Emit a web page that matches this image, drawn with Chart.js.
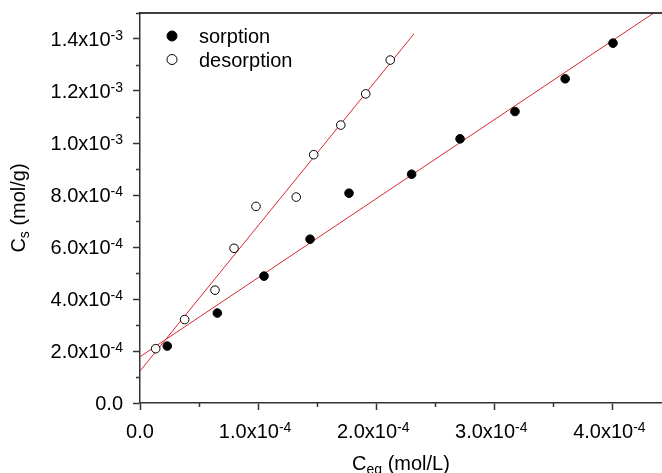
<!DOCTYPE html>
<html>
<head>
<meta charset="utf-8">
<script src="https://cdn.jsdelivr.net/npm/chart.js@4.4.1/dist/chart.umd.min.js"></script>
<style>
  body { margin: 0; background: #fff; }
  #wrap { width: 662px; height: 473px; }
</style>
</head>
<body>
<div id="wrap"><canvas id="chart" width="662" height="473"></canvas></div>
<script>
// values
var sorptionCeq = [0.231e-4, 0.655e-4, 1.05e-4, 1.44e-4, 1.77e-4, 2.30e-4, 2.71e-4, 3.175e-4, 3.60e-4, 4.005e-4];
var sorptionCs = [2.19e-4, 3.46e-4, 4.88e-4, 6.30e-4, 8.07e-4, 8.80e-4, 1.016e-3, 1.121e-3, 1.247e-3, 1.384e-3];
var desorptionCeq = [0.133e-4, 0.378e-4, 0.635e-4, 0.796e-4, 0.982e-4, 1.323e-4, 1.471e-4, 1.70e-4, 1.911e-4, 2.119e-4];
var desorptionCs = [2.09e-4, 3.21e-4, 4.34e-4, 5.95e-4, 7.56e-4, 7.92e-4, 9.55e-4, 1.069e-3, 1.189e-3, 1.319e-3];

// fitted lines (end points)
var sorptionFitCeq = [0, 4.35e-4];
var sorptionFitCs = [1.78e-4, 1.5e-3];
var desorptionFitCeq = [0, 2.32e-4];
var desorptionFitCs = [1.23e-4, 1.42e-3];

var xTickValues = [0, 1e-4, 2e-4, 3e-4, 4e-4];
var xTickLabels = ['0.0', '1.0x10^-4', '2.0x10^-4', '3.0x10^-4', '4.0x10^-4'];
var yTickValues = [0, 2e-4, 4e-4, 6e-4, 8e-4, 1e-3, 1.2e-3, 1.4e-3];
var yTickLabels = ['0.0', '2.0x10^-4', '4.0x10^-4', '6.0x10^-4', '8.0x10^-4', '1.0x10^-3', '1.2x10^-3', '1.4x10^-3'];

var FONT = "'Liberation Sans', Arial, sans-serif";
var AXIS = '#333';
var RED = 'rgb(220,40,50)';

function toPoints(xs, ys) {
    return xs.map(function(x, i) { return {x: x, y: ys[i]}; });
}

// text with ^superscript or _subscript part
function drawRich(ctx, text, x, y, align, big, small, shift) {
    var parts = text.split(/[\^_]/);
    var sign = text.indexOf('^') >= 0 ? -1 : 1;
    ctx.font = big + 'px ' + FONT;
    var w1 = ctx.measureText(parts[0]).width;
    var w2 = 0;
    if (parts[1]) {
        ctx.font = small + 'px ' + FONT;
        w2 = ctx.measureText(parts[1]).width;
    }
    var w3 = 0;
    if (parts[2]) {
        ctx.font = big + 'px ' + FONT;
        w3 = ctx.measureText(parts[2]).width;
    }
    var total = w1 + w2 + w3;
    var start = x;
    if (align === 'right') start = x - total;
    if (align === 'center') start = x - total / 2;
    ctx.textAlign = 'left';
    ctx.textBaseline = 'alphabetic';
    ctx.font = big + 'px ' + FONT;
    ctx.fillText(parts[0], start, y);
    if (parts[1]) {
        ctx.font = small + 'px ' + FONT;
        ctx.fillText(parts[1], start + w1, y + sign * shift);
    }
    if (parts[2]) {
        ctx.font = big + 'px ' + FONT;
        ctx.fillText(parts[2], start + w1 + w2, y);
    }
}

var decorations = {
    id: 'decorations',
    afterDraw: function(chart) {
        var ctx = chart.ctx;
        var area = chart.chartArea;
        var xs = chart.scales.x;
        var ys = chart.scales.y;
        ctx.save();

        // top frame line
        ctx.strokeStyle = '#000';
        ctx.lineWidth = 1.5;
        ctx.beginPath();
        ctx.moveTo(area.left, area.top);
        ctx.lineTo(chart.width, area.top);
        ctx.stroke();

        // minor ticks
        ctx.strokeStyle = AXIS;
        ctx.lineWidth = 1.5;
        ctx.beginPath();
        ys.ticks.forEach(function(t, i) {
            if (i % 2 === 1) {
                var py = Math.round(ys.getPixelForValue(t.value)) + 0.5;
                ctx.moveTo(area.left - 4, py);
                ctx.lineTo(area.left, py);
            }
        });
        xs.ticks.forEach(function(t, i) {
            if (i % 2 === 1) {
                var px = Math.round(xs.getPixelForValue(t.value)) + 0.5;
                ctx.moveTo(px, area.bottom);
                ctx.lineTo(px, area.bottom + 4);
            }
        });
        ctx.stroke();

        // tick labels
        ctx.fillStyle = '#000';
        yTickLabels.forEach(function(lab, i) {
            var py = ys.getPixelForValue(yTickValues[i]);
            drawRich(ctx, lab, area.left - 17, py + 7, 'right', 20, 14, 6);
        });
        xTickLabels.forEach(function(lab, i) {
            var px = xs.getPixelForValue(xTickValues[i]);
            var off = lab.indexOf('^') >= 0 ? -3 : 0;
            drawRich(ctx, lab, px + off, area.bottom + 35, 'center', 20, 14, 6);
        });

        // axis titles
        drawRich(ctx, 'C_eq_ (mol/L)', 401, area.bottom + 67, 'center', 20, 14, 4);
        ctx.save();
        ctx.translate(25, (area.top + area.bottom) / 2);
        ctx.rotate(-Math.PI / 2);
        drawRich(ctx, 'C_s_ (mol/g)', 0, 0, 'center', 20, 14, 4);
        ctx.restore();

        // legend
        var items = [chart.data.datasets[0], chart.data.datasets[1]];
        items.forEach(function(ds, i) {
            var cy = 36 + i * 23.5;
            ctx.beginPath();
            ctx.arc(172, cy, 5, 0, Math.PI * 2);
            ctx.fillStyle = ds.backgroundColor;
            ctx.fill();
            ctx.lineWidth = 1;
            ctx.strokeStyle = '#000';
            ctx.stroke();
            ctx.fillStyle = '#000';
            ctx.font = '20px ' + FONT;
            ctx.textAlign = 'left';
            ctx.textBaseline = 'alphabetic';
            ctx.fillText(ds.label, 199, cy + 7);
        });

        ctx.restore();
    }
};

var chartOptions = {
    type: 'scatter',
    data: {
        datasets: [
            {
                label: 'sorption',
                data: toPoints(sorptionCeq, sorptionCs),
                backgroundColor: '#000',
                borderColor: '#000',
                borderWidth: 1,
                pointRadius: 4.3,
                pointHoverRadius: 4.3
            },
            {
                label: 'desorption',
                data: toPoints(desorptionCeq, desorptionCs),
                backgroundColor: '#fff',
                borderColor: '#000',
                borderWidth: 1,
                pointRadius: 4.3,
                pointHoverRadius: 4.3
            },
            {
                label: 'sorption fit',
                data: toPoints(sorptionFitCeq, sorptionFitCs),
                showLine: true,
                borderColor: RED,
                borderWidth: 1,
                pointRadius: 0
            },
            {
                label: 'desorption fit',
                data: toPoints(desorptionFitCeq, desorptionFitCs),
                showLine: true,
                borderColor: RED,
                borderWidth: 1,
                pointRadius: 0
            }
        ]
    },
    options: {
        responsive: false,
        animation: false,
        layout: {
            autoPadding: false,
            padding: { top: 13, right: 0, left: 0, bottom: 0 }
        },
        plugins: {
            legend: { display: false },
            tooltip: { enabled: false }
        },
        scales: {
            x: {
                type: 'linear',
                min: 0,
                max: 4.42e-4,
                afterBuildTicks: function(scale) {
                    var t = [];
                    for (var i = 0; i <= 8; i++) t.push({value: i * 0.5e-4});
                    scale.ticks = t;
                },
                afterFit: function(scale) {
                    scale.height = 70;
                    scale.paddingLeft = 0;
                    scale.paddingRight = 0;
                },
                ticks: {
                    callback: function() { return ''; }
                },
                border: { display: true, color: AXIS, width: 1.5 },
                grid: {
                    drawOnChartArea: false,
                    tickLength: 7,
                    tickWidth: 1.5,
                    tickColor: function(c) { return c.index % 2 === 0 ? AXIS : 'rgba(0,0,0,0)'; }
                }
            },
            y: {
                type: 'linear',
                min: 0,
                max: 1.5e-3,
                afterBuildTicks: function(scale) {
                    var t = [];
                    for (var i = 0; i <= 15; i++) t.push({value: i * 1e-4});
                    scale.ticks = t;
                },
                afterFit: function(scale) {
                    scale.width = 140;
                    scale.paddingTop = 0;
                    scale.paddingBottom = 0;
                },
                ticks: {
                    callback: function() { return ''; }
                },
                border: { display: true, color: AXIS, width: 1.5 },
                grid: {
                    drawOnChartArea: false,
                    tickLength: 7,
                    tickWidth: 1.5,
                    tickColor: function(c) { return c.index % 2 === 0 ? AXIS : 'rgba(0,0,0,0)'; }
                }
            }
        }
    },
    plugins: [decorations]
};

var ctx = document.getElementById('chart').getContext('2d');
var chart = new Chart(ctx, chartOptions);
</script>
</body>
</html>
